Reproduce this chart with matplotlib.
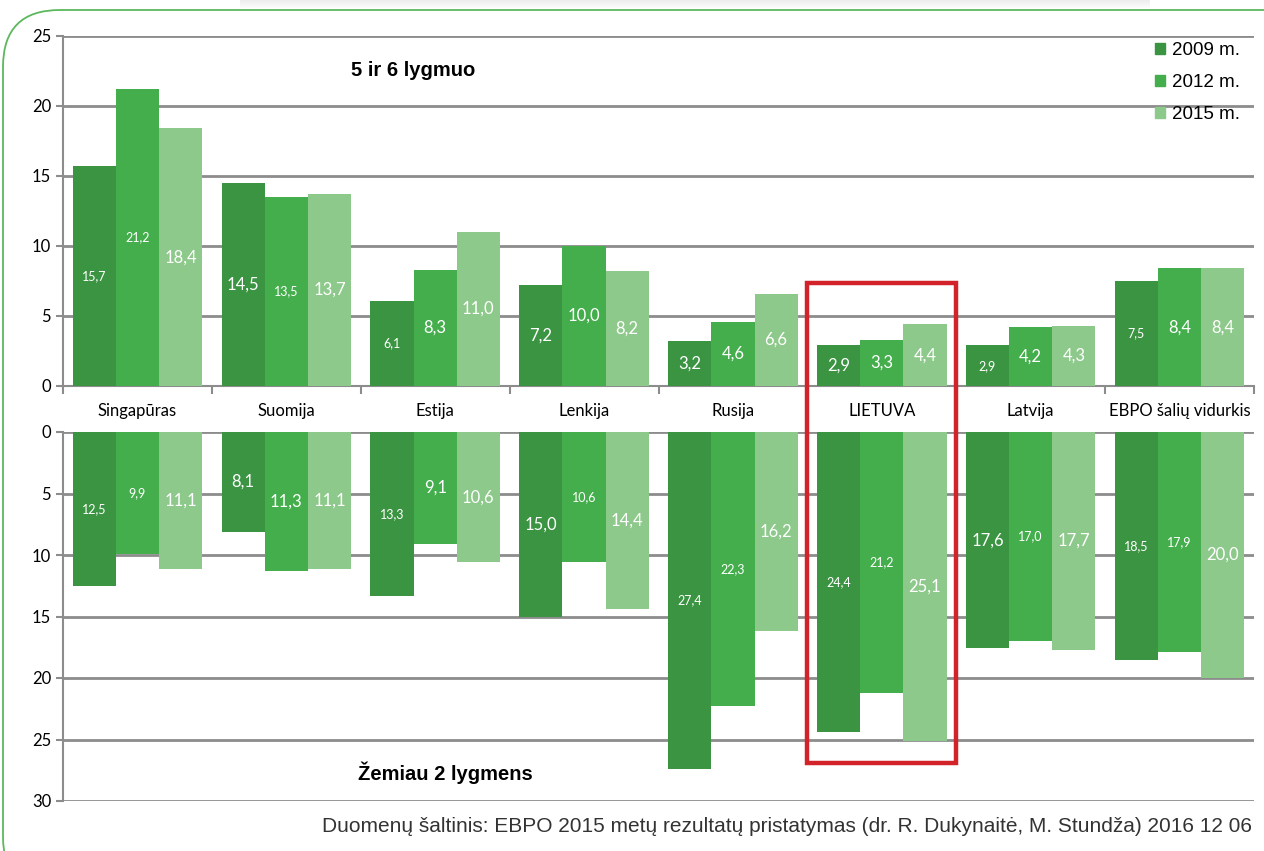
import matplotlib.pyplot as plt
from matplotlib.patches import Patch, Rectangle, FancyBboxPatch
import numpy as np

# Categories and series
countries = ["Singapūras", "Suomija", "Estija", "Lenkija", "Rusija",
             "LIETUVA", "Latvija", "EBPO šalių vidurkis"]
years = ["2009 m.", "2012 m.", "2015 m."]

# 5 ir 6 lygmuo (top panel)
top_2009 = [15.7, 14.5, 6.1, 7.2, 3.2, 2.9, 2.9, 7.5]
top_2012 = [21.2, 13.5, 8.3, 10.0, 4.6, 3.3, 4.2, 8.4]
top_2015 = [18.4, 13.7, 11.0, 8.2, 6.6, 4.4, 4.3, 8.4]

# Žemiau 2 lygmens (bottom panel)
low_2009 = [12.5, 8.1, 13.3, 15.0, 27.4, 24.4, 17.6, 18.5]
low_2012 = [9.9, 11.3, 9.1, 10.6, 22.3, 21.2, 17.0, 17.9]
low_2015 = [11.1, 11.1, 10.6, 14.4, 16.2, 25.1, 17.7, 20.0]

colors = ["#3a9441", "#43ae4b", "#8dc98a"]

# which data labels are drawn in the larger font (as in the source image)
top_big = [[0, 1, 0, 1, 1, 1, 0, 0],
           [0, 0, 1, 1, 1, 1, 1, 1],
           [1, 1, 1, 1, 1, 1, 1, 1]]
low_big = [[0, 1, 0, 1, 0, 0, 1, 0],
           [0, 1, 1, 0, 0, 0, 0, 0],
           [1, 1, 1, 1, 1, 1, 1, 1]]

W, H = 1264, 851
fig = plt.figure(figsize=(W / 100, H / 100), dpi=100)

# faint shadow of the slide element above
for k in range(8):
    fig.patches.append(Rectangle((240 / W, 1 - (k + 1) / H), 910 / W, 1 / H,
                                 transform=fig.transFigure, lw=0,
                                 color=(0.93 + k * 0.008,) * 3, zorder=0))

# rounded green frame
frame = FancyBboxPatch((3 / W, -0.05), 1.05, (H - 10) / H + 0.05,
                       boxstyle="round,pad=0,rounding_size=0.045",
                       transform=fig.transFigure, fill=False,
                       edgecolor="#5cb85c", linewidth=1.3,
                       mutation_aspect=W / H)
fig.patches.append(frame)

grid_c = "#8c8c8c"
lab_font = "Lato"

ax_top = fig.add_axes([63 / W, 1 - 386 / H, (1254 - 63) / W, 350 / H])
ax_low = fig.add_axes([63 / W, 1 - 801 / H, (1254 - 63) / W, 369 / H])

x = np.arange(len(countries))
bw = 0.29
offsets = [-bw, 0, bw]


def fmt(v):
    return f"{v:.1f}".replace(".", ",")


for ax, series, big in [(ax_top, [top_2009, top_2012, top_2015], top_big),
                        (ax_low, [low_2009, low_2012, low_2015], low_big)]:
    for i, vals in enumerate(series):
        bars = ax.bar(x + offsets[i], vals, bw, color=colors[i], zorder=3,
                      label=years[i])
        for b, v, bg in zip(bars, vals, big[i]):
            ax.text(b.get_x() + b.get_width() / 2, v / 2, fmt(v),
                    ha="center", va="center", color="white",
                    fontsize=12 if bg else 9, family=lab_font, zorder=4)
    ax.set_xlim(-0.5, len(countries) - 0.5)
    for s in ["top", "right"]:
        ax.spines[s].set_visible(False)
    ax.spines["left"].set_color(grid_c)
    ax.spines["left"].set_linewidth(1.5)
    ax.tick_params(axis="y", colors=grid_c, length=5, width=1.5,
                   labelcolor="black", labelsize=12)

# top panel
ax_top.set_ylim(0, 25)
ax_top.set_yticks(range(0, 26, 5))
for lab in ax_top.get_yticklabels():
    lab.set_family(lab_font)
for yv in range(5, 26, 5):
    ax_top.axhline(yv, color=grid_c, lw=2, zorder=1)
ax_top.spines["bottom"].set_color(grid_c)
ax_top.spines["bottom"].set_linewidth(1.5)
ax_top.set_xticks(np.arange(-0.5, len(countries) + 0.5, 1))
ax_top.set_xticklabels([])
ax_top.tick_params(axis="x", colors=grid_c, length=6, width=1.5)
ax_top.text((413 - 63) / (1254 - 63), 0.9, "5 ir 6 lygmuo",
            transform=ax_top.transAxes, ha="center", va="center",
            fontsize=14.5, fontweight="bold", family="Liberation Sans")

# country labels between the panels
for i, c in enumerate(countries):
    ax_top.text(i, -1.8, c, ha="center", va="center", fontsize=12,
                family=lab_font, clip_on=False)

# bottom panel
ax_low.set_ylim(30, 0)
ax_low.set_yticks(range(0, 31, 5))
for lab in ax_low.get_yticklabels():
    lab.set_family(lab_font)
for yv in range(0, 31, 5):
    ax_low.axhline(yv, color=grid_c, lw=2, zorder=1)
ax_low.spines["bottom"].set_visible(False)
ax_low.set_xticks([])
ax_low.text((445 - 63) / (1254 - 63), 0.076, "Žemiau 2 lygmens",
            transform=ax_low.transAxes, ha="center", va="center",
            fontsize=14.5, fontweight="bold", family="Liberation Sans")

# legend
handles = [Patch(color=c) for c in colors]
ax_top.legend(handles, years, loc="upper right", bbox_to_anchor=(1.002, 1.03),
              frameon=False, handlelength=0.55, handleheight=0.55,
              handletextpad=0.35, labelspacing=0.8,
              prop={"family": "Liberation Sans", "size": 13.5})

# red highlight around LIETUVA
fig.canvas.draw()
inv = fig.transFigure.inverted()
x0, y_top = inv.transform(ax_top.transData.transform((4.5, 7.35)))
x1, _ = inv.transform(ax_top.transData.transform((5.5, 7.35)))
_, y_bot = inv.transform(ax_low.transData.transform((5.5, 26.9)))
fig.patches.append(Rectangle((x0, y_bot), x1 - x0, y_top - y_bot,
                             transform=fig.transFigure, fill=False,
                             edgecolor="#d2232a", linewidth=3.2, zorder=10))

fig.text(1252 / W, 1 - 826 / H,
         "Duomenų šaltinis: EBPO 2015 metų rezultatų pristatymas "
         "(dr. R. Dukynaitė, M. Stundža) 2016 12 06",
         ha="right", va="center", fontsize=15, color="#333333",
         family="Liberation Sans")

fig.savefig("out.png", dpi=100)
